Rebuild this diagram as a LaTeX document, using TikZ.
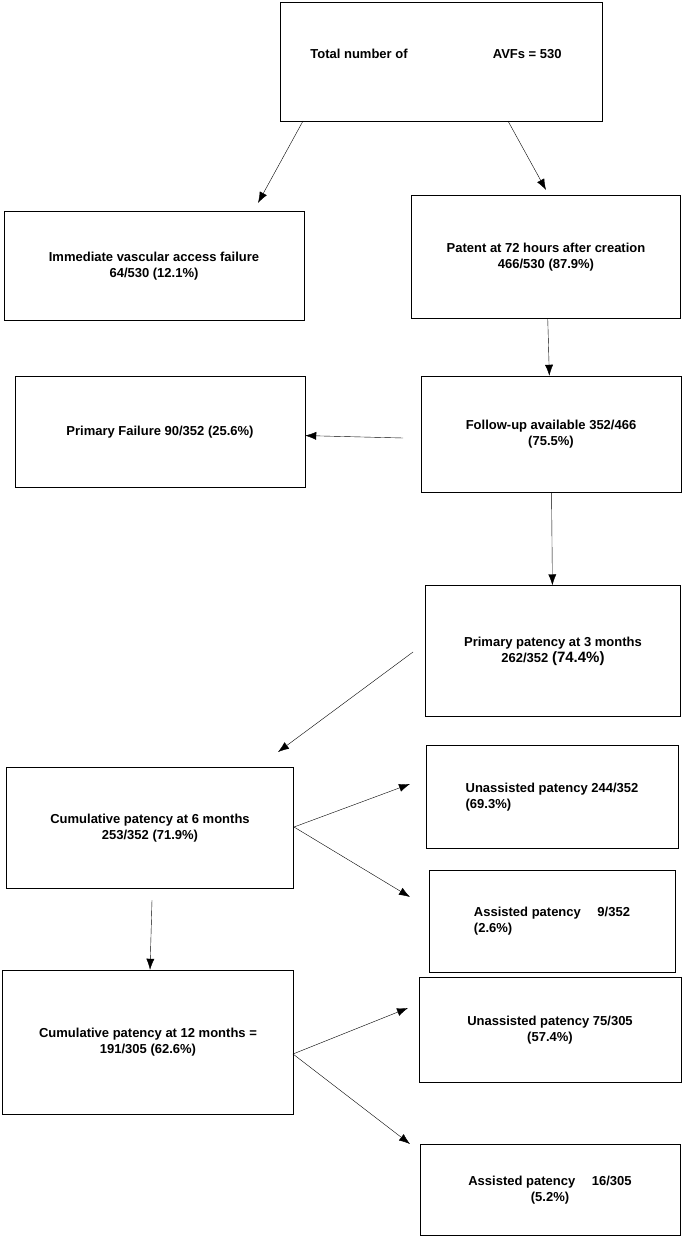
\documentclass[tikz,border=0pt]{standalone}
\usepackage{fontspec}
\setmainfont{Liberation Sans}
\usetikzlibrary{arrows.meta}

\tikzset{box/.style={draw=black,align=center,font=\bfseries\fontsize{13}{16}\selectfont},
         arr/.style={-{Latex[length=11pt,width=8pt]}}}

\begin{document}
\begin{tikzpicture}[x=1pt,y=-1pt]
\useasboundingbox (0,0) rectangle (685,1236);
\node (T) [box,minimum width=322,minimum height=119] at (441,62) {};
\node [font=\bfseries\fontsize{13}{16}\selectfont] at (436,54) {Total number of \hspace{78pt} AVFs = 530};
\node (IF) [box,minimum width=300,minimum height=109] at (154,266) {Immediate vascular access failure\\64/530 (12.1\%)};
\node (PA) [box,minimum width=269,minimum height=123] at (546,257) {Patent at 72 hours after creation\\466/530 (87.9\%)};
\node (PF) [box,minimum width=290,minimum height=111] at (160,432) {Primary Failure 90/352 (25.6\%)};
\node (FU) [box,minimum width=260,minimum height=116] at (551,434) {Follow-up available 352/466\\(75.5\%)};
\node (P3) [box,minimum width=255,minimum height=131] at (553,651) {Primary patency at 3 months\\262/352 {\fontsize{15}{16}\selectfont(74.4\%)}};
\node (C6) [box,minimum width=287,minimum height=121] at (150,828) {Cumulative patency at 6 months\\253/352 (71.9\%)};
\node (U6) [box,minimum width=252,minimum height=103,align=left] at (552,797) {Unassisted patency 244/352\\(69.3\%)};
\node (A6) [box,minimum width=246,minimum height=102,align=left] at (552,921) {Assisted patency \quad 9/352\\(2.6\%)};
\node (C12) [box,minimum width=291,minimum height=144] at (148,1042) {Cumulative patency at 12 months =\\191/305 (62.6\%)};
\node (U12) [box,minimum width=262,minimum height=105] at (550,1030) {Unassisted patency 75/305\\(57.4\%)};
\node (A12) [box,minimum width=260,minimum height=91] at (550,1190) {Assisted patency \quad 16/305\\(5.2\%)};

\coordinate (s1) at (303,121);
\coordinate (e1) at (258,203);
\coordinate (s2) at (508,121);
\coordinate (e2) at (546,190);
\coordinate (s4) at (403,438);
\coordinate (s6) at (413,652);
\coordinate (e6) at (278,752);
\coordinate (s7) at (294,827);
\coordinate (s9) at (152,900);
\coordinate (s10) at (293,1054);

\draw[arr] (s1)--(e1);
\draw[arr] (s2)--(e2);
\draw[arr] (PA)--(FU);
\draw[arr] (s4)--(PF);
\draw[arr] (FU)--(P3);
\draw[arr] (s6)--(e6);
\draw[arr] (s7)--(410,784);
\draw[arr] (s7)--(410,897);
\draw[arr] (s9)--(C12);
\draw[arr] (s10)--(408,1008);
\draw[arr] (s10)--(410,1144);
\end{tikzpicture}
\end{document}
